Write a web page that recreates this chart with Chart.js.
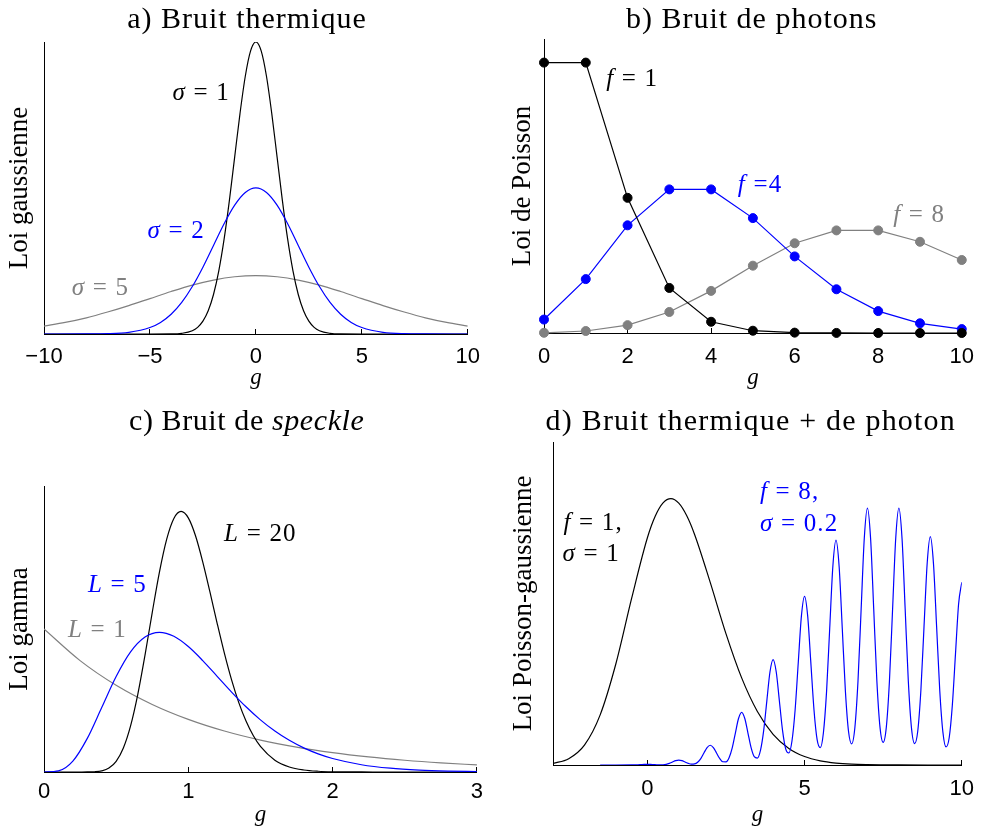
<!DOCTYPE html>
<html>
<head>
<meta charset="utf-8">
<script src="https://cdn.jsdelivr.net/npm/chart.js@4.4.1/dist/chart.umd.min.js"></script>
<style>
  html, body { margin: 0; padding: 0; background: #fff; }
  #fig { position: relative; width: 990px; height: 832px; }
  #fig canvas { position: absolute; }
</style>
</head>
<body>
<div id="fig">
  <canvas id="chartA" width="495" height="400" style="left:0;top:0"></canvas>
  <canvas id="chartB" width="495" height="400" style="left:495px;top:0"></canvas>
  <canvas id="chartC" width="495" height="432" style="left:0;top:400px"></canvas>
  <canvas id="chartD" width="495" height="432" style="left:495px;top:400px"></canvas>
</div>
<script>
/* ── data ───────────────────────────────────────────────── */

// a) thermal noise: gaussian densities
const gThermS1 = [-10, -5, -4, -3.5, -3, -2.75, -2.5, -2.25, -2, -1.75, -1.5, -1.25, -1, -0.75, -0.5, -0.25, 0,
                  0.25, 0.5, 0.75, 1, 1.25, 1.5, 1.75, 2, 2.25, 2.5, 2.75, 3, 3.5, 4, 5, 10];
const thermS1  = [0, 0, 0.0001, 0.0009, 0.0044, 0.0091, 0.0175, 0.0317, 0.0540, 0.0863, 0.1295, 0.1826, 0.2420, 0.3011, 0.3521, 0.3867, 0.3989,
                  0.3867, 0.3521, 0.3011, 0.2420, 0.1826, 0.1295, 0.0863, 0.0540, 0.0317, 0.0175, 0.0091, 0.0044, 0.0009, 0.0001, 0, 0];
const gThermS2 = [-10, -8, -7, -6, -5, -4.5, -4, -3.5, -3, -2.5, -2, -1.5, -1, -0.5, 0,
                  0.5, 1, 1.5, 2, 2.5, 3, 3.5, 4, 4.5, 5, 6, 7, 8, 10];
const thermS2  = [0, 0.0001, 0.0004, 0.0022, 0.0088, 0.0158, 0.0270, 0.0431, 0.0648, 0.0913, 0.1210, 0.1506, 0.1760, 0.1933, 0.1995,
                  0.1933, 0.1760, 0.1506, 0.1210, 0.0913, 0.0648, 0.0431, 0.0270, 0.0158, 0.0088, 0.0022, 0.0004, 0.0001, 0];
const gThermS5 = [-10, -9, -8, -7, -6, -5, -4, -3, -2, -1, 0, 1, 2, 3, 4, 5, 6, 7, 8, 9, 10];
const thermS5  = [0.0108, 0.0158, 0.0221, 0.0300, 0.0388, 0.0484, 0.0580, 0.0668, 0.0737, 0.0782, 0.0798,
                  0.0782, 0.0737, 0.0668, 0.0580, 0.0484, 0.0388, 0.0300, 0.0221, 0.0158, 0.0108];

// b) photon noise: poisson probabilities
const gPhot   = [0, 1, 2, 3, 4, 5, 6, 7, 8, 9, 10];
const photF1  = [0.3679, 0.3679, 0.1839, 0.0613, 0.0153, 0.0031, 0.0005, 0.0001, 0, 0, 0];
const photF4  = [0.0183, 0.0733, 0.1465, 0.1954, 0.1954, 0.1563, 0.1042, 0.0595, 0.0298, 0.0132, 0.0053];
const photF8  = [0.0003, 0.0027, 0.0107, 0.0286, 0.0573, 0.0916, 0.1221, 0.1396, 0.1396, 0.1241, 0.0993];

// c) speckle: gamma densities
const gSpk20 = [0, 0.25, 0.3, 0.35, 0.4, 0.45, 0.5, 0.55, 0.6, 0.65, 0.7, 0.75, 0.8, 0.85, 0.9, 0.95, 1, 1.05, 1.1, 1.15,
                1.2, 1.25, 1.3, 1.35, 1.4, 1.45, 1.5, 1.6, 1.7, 1.8, 1.9, 2, 2.2, 2.5, 3];
const spkL20 = [0, 0, 0.0002, 0.0017, 0.0079, 0.0274, 0.0746, 0.168, 0.3227, 0.5432, 0.817, 1.115, 1.398, 1.627, 1.773, 1.822, 1.777, 1.652, 1.470, 1.259,
                1.040, 0.831, 0.644, 0.485, 0.356, 0.255, 0.179, 0.0825, 0.0353, 0.0142, 0.0054, 0.0019, 0.0002, 0, 0];
const gSpk5  = [0, 0.1, 0.2, 0.3, 0.4, 0.5, 0.6, 0.7, 0.8, 0.9, 1, 1.1, 1.2, 1.3, 1.4, 1.5, 1.6, 1.7, 1.8, 1.9, 2,
                2.2, 2.4, 2.6, 2.8, 3];
const spkL5  = [0, 0.0079, 0.0766, 0.2353, 0.4511, 0.6680, 0.8402, 0.9441, 0.9768, 0.9490, 0.8773, 0.7791, 0.6693, 0.5591, 0.4561, 0.3646, 0.2863, 0.2213, 0.1687, 0.1270, 0.0946,
                0.0509, 0.0265, 0.0135, 0.0067, 0.0032];
const gSpk1  = [0, 0.25, 0.5, 0.75, 1, 1.25, 1.5, 1.75, 2, 2.25, 2.5, 2.75, 3];
const spkL1  = [1, 0.7788, 0.6065, 0.4724, 0.3679, 0.2865, 0.2231, 0.1738, 0.1353, 0.1054, 0.0821, 0.0639, 0.0498];

// d) thermal + photon: poisson-gaussian densities
const gMixF1 = [-3, -2.5, -2, -1.5, -1, -0.5, 0, 0.25, 0.5, 0.75, 1, 1.25, 1.5, 2, 2.5, 3, 3.5, 4, 4.5, 5, 5.5, 6, 6.5, 7, 7.5, 8, 9, 10];
const mixF1  = [0.0017, 0.0068, 0.0215, 0.0543, 0.1097, 0.1805, 0.2460, 0.2695, 0.2840, 0.2886, 0.2837, 0.2703, 0.2501, 0.1979, 0.1424,
                0.0944, 0.0580, 0.0333, 0.0180, 0.0092, 0.0045, 0.0021, 0.0009, 0.0004, 0.0002, 0.0001, 0, 0];
const gMixF8 = [-1.5, -1, -0.5, -0.3, -0.2, -0.1,
  0, 0.1, 0.2, 0.3, 0.4, 0.5, 0.6, 0.7, 0.8, 0.9,
  1, 1.1, 1.2, 1.3, 1.4, 1.5, 1.6, 1.7, 1.8, 1.9,
  2, 2.1, 2.2, 2.3, 2.4, 2.5, 2.6, 2.7, 2.8, 2.9,
  3, 3.1, 3.2, 3.3, 3.4, 3.5, 3.6, 3.7, 3.8, 3.9,
  4, 4.1, 4.2, 4.3, 4.4, 4.5, 4.6, 4.7, 4.8, 4.9,
  5, 5.1, 5.2, 5.3, 5.4, 5.5, 5.6, 5.7, 5.8, 5.9,
  6, 6.1, 6.2, 6.3, 6.4, 6.5, 6.6, 6.7, 6.8, 6.9,
  7, 7.1, 7.2, 7.3, 7.4, 7.5, 7.6, 7.7, 7.8, 7.9,
  8, 8.1, 8.2, 8.3, 8.4, 8.5, 8.6, 8.7, 8.8, 8.9,
  9, 9.1, 9.2, 9.3, 9.4, 9.5, 9.6, 9.7, 9.8, 9.9,
  10];
const mixF8 = [0, 0, 0.00003, 0.00022, 0.00041, 0.00059,
  0.00067, 0.00059, 0.00041, 0.00023, 0.00015, 0.00026, 0.00073, 0.00174, 0.00325, 0.00473,
  0.00535, 0.00473, 0.00325, 0.00179, 0.00096, 0.00118, 0.00296, 0.00697, 0.01299, 0.01890,
  0.02141, 0.01890, 0.01301, 0.00708, 0.00353, 0.00345, 0.00796, 0.01859, 0.03464, 0.05039,
  0.05710, 0.05040, 0.03467, 0.01879, 0.00900, 0.00753, 0.01609, 0.03721, 0.06928, 0.10078,
  0.11420, 0.10079, 0.06932, 0.03748, 0.01748, 0.01305, 0.02599, 0.05958, 0.11086, 0.16126,
  0.18272, 0.16126, 0.11090, 0.05986, 0.02743, 0.01873, 0.03499, 0.07951, 0.14782, 0.21501,
  0.24363, 0.21502, 0.14786, 0.07972, 0.03606, 0.02294, 0.04038, 0.09094, 0.16895, 0.24573,
  0.27844, 0.24573, 0.16896, 0.09102, 0.04077, 0.02447, 0.04077, 0.09102, 0.16896, 0.24573,
  0.27844, 0.24573, 0.16895, 0.09095, 0.04042, 0.02311, 0.03658, 0.08097, 0.15020, 0.21843,
  0.24750, 0.21843, 0.15017, 0.08080, 0.03569, 0.01958, 0.02954, 0.06483, 0.12017, 0.17475,
  0.19800];

/* ── look ───────────────────────────────────────────────── */
const COL = { black: '#000000', blue: '#0000ff', gray: '#808080' };
const SERIF = 'Liberation Serif';

Chart.defaults.font.family = 'Liberation Sans';
Chart.defaults.color = '#000';
Chart.defaults.animation = false;

// ── helper: zip x/y lists into points ───────────────────
const pts = (xs, ys) => xs.map((x, i) => ({ x, y: ys[i] }));

function curve(xs, ys, color, order) {
  return {
    data: pts(xs, ys), borderColor: color, borderWidth: 1.2,
    pointRadius: 0, fill: false, cubicInterpolationMode: 'monotone', order,
  };
}

function dots(xs, ys, color, order) {
  return {
    data: pts(xs, ys), borderColor: color, borderWidth: 1.2,
    pointRadius: 4.5, pointBackgroundColor: color, pointBorderColor: color, pointBorderWidth: 1,
    fill: false, tension: 0, clip: false, order,
  };
}

// ── text runs: titles (pixel) and curve labels (data) ───
const notesPlugin = {
  id: 'notes',
  afterDraw(chart, args, opts) {
    const ctx = chart.ctx;
    for (const n of opts.items || []) {
      let x = n.px ? n.x : chart.scales.x.getPixelForValue(n.x);
      const y = n.px ? n.y : chart.scales.y.getPixelForValue(n.y);
      const size = n.size || 25;
      ctx.save();
      ctx.fillStyle = n.color || COL.black;
      ctx.textBaseline = 'alphabetic';
      ctx.textAlign = 'left';
      ctx.letterSpacing = (n.spacing ?? 1.2) + 'px';
      const fonts = n.parts.map(p => `${p[1] ? 'italic ' : ''}${size}px "${SERIF}"`);
      const widths = n.parts.map((p, i) => { ctx.font = fonts[i]; return ctx.measureText(p[0]).width; });
      if (n.center) x -= widths.reduce((a, b) => a + b, 0) / 2;
      n.parts.forEach((p, i) => { ctx.font = fonts[i]; ctx.fillText(p[0], x, y); x += widths[i]; });
      ctx.restore();
    }
  },
};

function makePanel(id, cfg) {
  return new Chart(document.getElementById(id), {
    type: 'line',
    data: { datasets: cfg.datasets },
    options: {
      responsive: false,
      layout: { padding: { top: cfg.top, right: cfg.right, left: 0, bottom: 0 } },
      plugins: {
        legend: { display: false },
        tooltip: { enabled: false },
        notes: { items: cfg.notes },
      },
      scales: {
        x: {
          type: 'linear', min: cfg.xMin, max: cfg.xMax,
          afterFit: s => { s.height = cfg.xHeight; },
          afterBuildTicks: s => { s.ticks = cfg.xTicks.map(v => ({ value: v })); },
          grid: { display: true, drawOnChartArea: false, drawTicks: true, tickLength: -5, color: '#000', lineWidth: 1 },
          border: { display: true, color: '#000', width: 1 },
          ticks: {
            padding: cfg.tickPad, autoSkip: false, maxRotation: 0, color: '#000',
            font: { family: 'Liberation Sans', size: 22 },
            callback: v => v < 0 ? '\u2212' + Math.abs(v) : String(v),
          },
          title: {
            display: true, text: 'g', color: '#000',
            font: { family: SERIF, size: 23, style: 'italic', lineHeight: 1 },
            padding: { top: 0, bottom: cfg.gPad },
          },
        },
        y: {
          min: 0, max: cfg.yMax,
          afterFit: s => { s.width = cfg.yWidth; },
          grid: { display: false },
          border: { display: true, color: '#000', width: 1 },
          ticks: { display: false },
          title: {
            display: true, text: cfg.yTitle, color: '#000',
            font: { family: SERIF, size: 27, lineHeight: 1 },
            padding: { top: cfg.yPad, bottom: 0 },
          },
        },
      },
    },
    plugins: [notesPlugin],
  });
}

/* ── a) Bruit thermique ─────────────────────────────────── */
makePanel('chartA', {
  top: 42, right: 25, xHeight: 66, yWidth: 44,
  xMin: -10, xMax: 10, xTicks: [-10, -5, 0, 5, 10], yMax: 0.3989,
  tickPad: 15, gPad: 11, yPad: 6, yTitle: 'Loi gaussienne',
  datasets: [
    curve(gThermS2, thermS2, COL.blue, 0),
    curve(gThermS1, thermS1, COL.black, 1),
    curve(gThermS5, thermS5, COL.gray, 2),
  ],
  notes: [
    { px: true, x: 247, y: 28, center: true, size: 30, spacing: 1, parts: [['a) Bruit thermique', false]] },
    { x: -3.94, y: 0.3197, parts: [['\u03c3', true], [' = 1', false]] },
    { x: -5.12, y: 0.131, color: COL.blue, parts: [['\u03c3', true], [' = 2', false]] },
    { x: -8.69, y: 0.0533, color: COL.gray, parts: [['\u03c3', true], [' = 5', false]] },
  ],
});

/* ── b) Bruit de photons ────────────────────────────────── */
makePanel('chartB', {
  top: 39, right: 17, xHeight: 67, yWidth: 49,
  xMin: 0, xMax: 10, xTicks: [0, 2, 4, 6, 8, 10], yMax: 0.4,
  tickPad: 16, gPad: 11, yPad: 14, yTitle: 'Loi de Poisson',
  datasets: [
    dots(gPhot, photF1, COL.black, 0),
    dots(gPhot, photF4, COL.blue, 1),
    dots(gPhot, photF8, COL.gray, 2),
  ],
  notes: [
    { px: true, x: 256.7, y: 28, center: true, size: 30, spacing: 1, parts: [['b) Bruit de photons', false]] },
    { x: 1.49, y: 0.336, parts: [['f', true], [' = 1', false]] },
    { x: 4.64, y: 0.1914, color: COL.blue, parts: [['f', true], [' =4', false]] },
    { x: 8.36, y: 0.1514, color: COL.gray, parts: [['f', true], [' = 8', false]] },
  ],
});

/* ── c) Bruit de speckle ────────────────────────────────── */
makePanel('chartC', {
  top: 86, right: 18, xHeight: 60, yWidth: 44,
  xMin: 0, xMax: 3, xTicks: [0, 1, 2, 3], yMax: 2,
  tickPad: 12, gPad: 6, yPad: 6, yTitle: 'Loi gamma',
  datasets: [
    curve(gSpk5, spkL5, COL.blue, 0),
    curve(gSpk20, spkL20, COL.black, 1),
    curve(gSpk1, spkL1, COL.gray, 2),
  ],
  notes: [
    { px: true, x: 246.7, y: 30, center: true, size: 30, spacing: 0.6, parts: [['c) Bruit de ', false], ['speckle', true]] },
    { x: 1.248, y: 1.617, parts: [['L', true], [' = 20', false]] },
    { x: 0.305, y: 1.256, color: COL.blue, parts: [['L', true], [' = 5', false]] },
    { x: 0.166, y: 0.941, color: COL.gray, parts: [['L', true], [' = 1', false]] },
  ],
});

/* ── d) Bruit thermique + de photon ─────────────────────── */
makePanel('chartD', {
  top: 42, right: 17, xHeight: 67, yWidth: 58,
  xMin: -3, xMax: 10, xTicks: [0, 5, 10], yMax: 0.35,
  tickPad: 16, gPad: 6, yPad: 15, yTitle: 'Loi Poisson-gaussienne',
  datasets: [
    curve(gMixF8, mixF8, COL.blue, 0),
    curve(gMixF1, mixF1, COL.black, 1),
  ],
  notes: [
    { px: true, x: 255.8, y: 30, center: true, size: 30, spacing: 1.2, parts: [['d) Bruit thermique + de photon', false]] },
    { x: -2.67, y: 0.255, parts: [['f', true], [' = 1,', false]] },
    { x: -2.70, y: 0.2208, parts: [['\u03c3', true], [' = 1', false]] },
    { x: 3.58, y: 0.288, color: COL.blue, parts: [['f', true], [' = 8,', false]] },
    { x: 3.58, y: 0.2532, color: COL.blue, parts: [['\u03c3', true], [' = 0.2', false]] },
  ],
});
</script>
</body>
</html>
